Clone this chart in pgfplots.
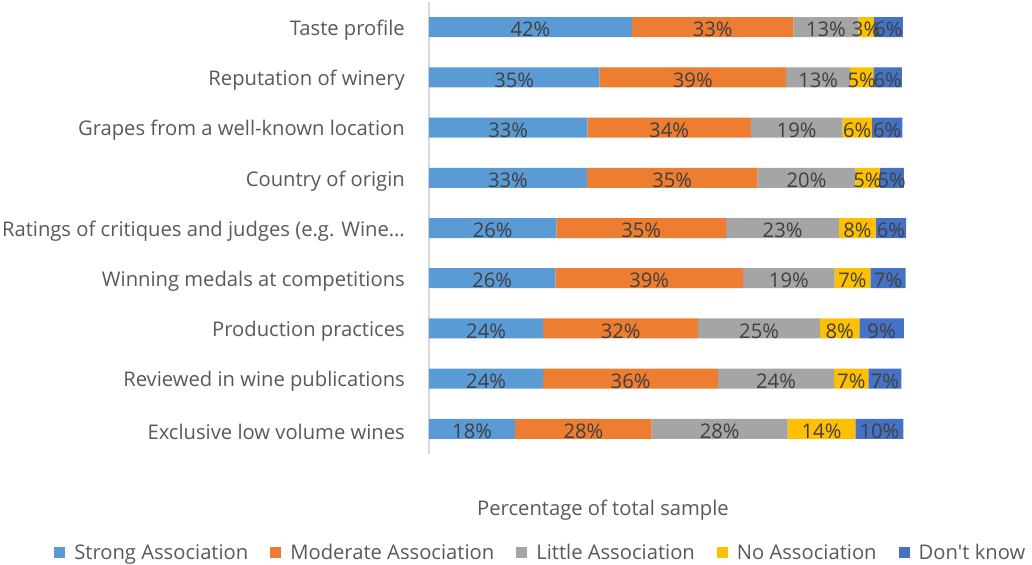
\documentclass[border=0pt]{standalone}
\usepackage{fontspec}
\setmainfont{Open Sans}
\usepackage{pgfplots}
\usepackage{pgfplotstable}
\pgfplotsset{compat=1.18}
\definecolor{cA}{HTML}{5B9BD5}
\definecolor{cB}{HTML}{ED7D31}
\definecolor{cC}{HTML}{A5A5A5}
\definecolor{cD}{HTML}{FFC000}
\definecolor{cE}{HTML}{4472C4}
\definecolor{txt}{HTML}{595959}
\definecolor{lbl}{HTML}{404040}
\definecolor{spine}{HTML}{D9D9D9}
\newcommand{\ft}{\fontsize{20.2bp}{24bp}\selectfont}
\pgfplotstableread{
y a b c d e
0 41.9 33.4 13.4 3.2 6.0
1 35.2 38.6 13.2 4.8 5.9
2 32.7 33.8 18.9 6.1 6.3
3 32.6 35.3 20.2 5.0 5.0
4 26.3 35.1 23.3 7.6 6.3
5 26.1 38.8 18.9 7.4 7.3
6 23.6 32.0 25.2 8.1 9.2
7 23.6 36.1 24.0 7.1 6.8
8 17.8 28.2 28.1 14.0 9.9
}\data
\pgfplotstableset{
  create on use/ma/.style={create col/expr={\thisrow{a}/2}},
  create on use/mb/.style={create col/expr={\thisrow{a}+\thisrow{b}/2}},
  create on use/mc/.style={create col/expr={\thisrow{a}+\thisrow{b}+\thisrow{c}/2}},
  create on use/md/.style={create col/expr={\thisrow{a}+\thisrow{b}+\thisrow{c}+\thisrow{d}/2}},
  create on use/me/.style={create col/expr={\thisrow{a}+\thisrow{b}+\thisrow{c}+\thisrow{d}+\thisrow{e}/2}},
}
\pgfplotsset{
  base/.style={
    at={(0,0)}, anchor=south west, scale only axis,
    width=484bp, height=452bp,
    xmin=0, xmax=100, ymin=-0.5, ymax=8.5, y dir=reverse,
    font=\ft,
  },
}
\begin{document}
\begin{tikzpicture}
\useasboundingbox (-429bp,-111bp) rectangle (603bp,454bp);
\begin{axis}[base, clip=false,
  xbar stacked, bar width=20bp,
  axis x line=none, axis y line=left,
  y axis line style={-, draw=spine, line width=1.5bp},
  ytick={0,...,8}, major tick length=0pt,
  yticklabels={Taste profile, Reputation of winery, Grapes from a well-known location, Country of origin, Ratings of critiques and judges (e.g. Wine…, Winning medals at competitions, Production practices, Reviewed in wine publications, Exclusive low volume wines},
  yticklabel style={anchor=east, inner sep=0pt, xshift=-24bp, yshift=-3bp, text=txt, font=\ft},
  legend columns=5,
  legend style={draw=none, fill=none, font=\ft, text=txt,
    at={(axis description cs:0.231,-0.2185)}, anchor=center,
    /tikz/every even column/.append style={column sep=20bp},
    /tikz/every odd column/.append style={column sep=7bp}},
  legend image code/.code={\fill[#1, draw=none] (0bp,-5.5bp) rectangle (11bp,5.5bp);},
]
\addplot[fill=cA, draw=none] table[x=a, y=y] {\data};
\addplot[fill=cB, draw=none] table[x=b, y=y] {\data};
\addplot[fill=cC, draw=none] table[x=c, y=y] {\data};
\addplot[fill=cD, draw=none] table[x=d, y=y] {\data};
\addplot[fill=cE, draw=none] table[x=e, y=y] {\data};
\legend{Strong Association, Moderate Association, Little Association, No Association, Don\textquotesingle t know}
\node[text=txt, font=\ft, anchor=center] at (axis description cs:0.3595,-0.1236) {Percentage of total sample};
\end{axis}
\begin{axis}[base, hide axis,
  nodes near coords={\pgfmathprintnumber[fixed, precision=0]{\pgfplotspointmeta}\%},
  nodes near coords align=center,
  every node near coord/.append style={anchor=center, text=lbl, font=\ft, inner sep=0pt, yshift=-2.5bp},
  /pgf/number format/assume math mode=true,
  point meta=explicit,
]
\addplot[draw=none, mark=none] table[x=ma, y=y, meta=a] {\data};
\addplot[draw=none, mark=none] table[x=mb, y=y, meta=b] {\data};
\addplot[draw=none, mark=none] table[x=mc, y=y, meta=c] {\data};
\addplot[draw=none, mark=none] table[x=md, y=y, meta=d] {\data};
\addplot[draw=none, mark=none] table[x=me, y=y, meta=e] {\data};
\end{axis}
\end{tikzpicture}
\end{document}
